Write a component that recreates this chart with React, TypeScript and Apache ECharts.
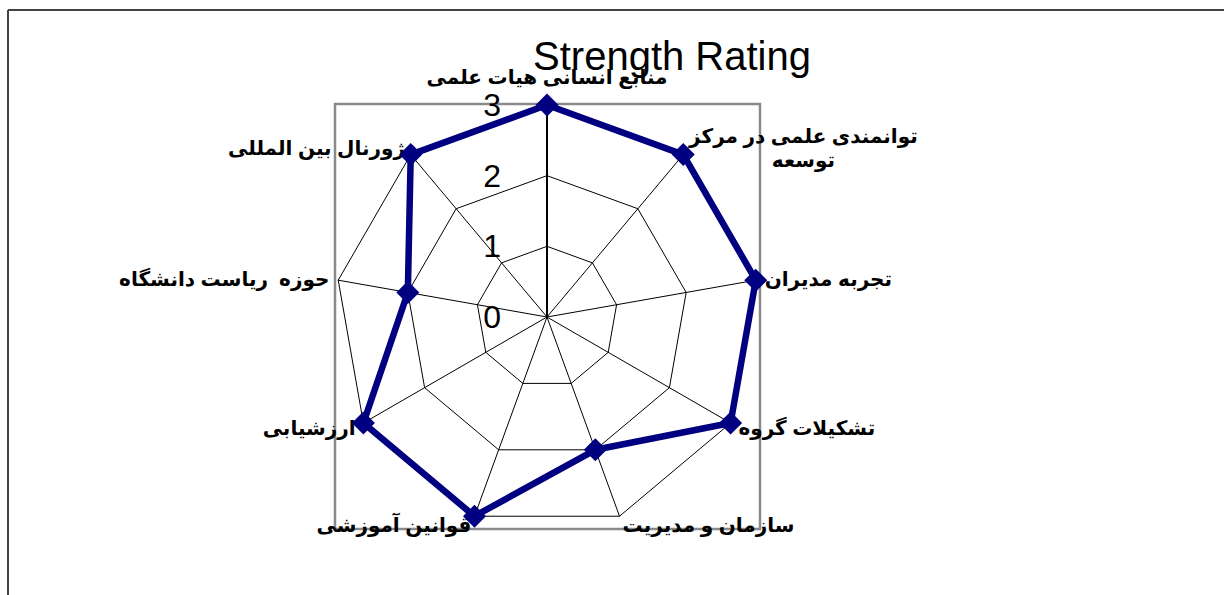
import React, { useEffect, useRef } from "react";
import * as echarts from "echarts";

// Categories listed counter-clockwise starting from the top axis
const categories = [
  "منابع انسانی هیات علمی",
  "ژورنال بین المللی",
  "حوزه  ریاست دانشگاه",
  "ارزشیابی",
  "قوانین آموزشی",
  "سازمان و مدیریت",
  "تشکیلات گروه",
  "تجربه مدیران",
  "توانمندی علمی در مرکز\nتوسعه",
];
const strengthValues = [3, 3, 2, 3, 3, 2, 3, 3, 3];
const tickLabels = ["0", "1", "2", "3"];
const axisMin = 0;
const axisMax = 3;
const chartTitle = "Strength Rating";

export default function App() {
  const ref = useRef<HTMLDivElement>(null);

  useEffect(() => {
    if (!ref.current) return;
    const chart = echarts.init(ref.current, undefined, { renderer: "svg" });
    const labelFont = 'Arial, "Liberation Sans", "DejaVu Sans", sans-serif';
    const n = categories.length;

    // name alignment: outward from the centre, vertically centred except the top one
    const nameStyleFor = (i: number) => {
      if (i === 0) return { align: "center", verticalAlign: "bottom" };
      const ang = Math.PI / 2 + (2 * Math.PI * i) / n;
      const c = Math.cos(ang);
      return { align: c > 0.05 ? "left" : c < -0.05 ? "right" : "center", verticalAlign: "middle" };
    };

    chart.setOption({
      animation: false,
      backgroundColor: "#ffffff",
      graphic: [
        {
          type: "line",
          shape: { x1: 8, y1: 10, x2: 1224, y2: 10 },
          style: { stroke: "#444", lineWidth: 2 },
          silent: true,
        },
        {
          type: "line",
          shape: { x1: 8, y1: 10, x2: 8, y2: 595 },
          style: { stroke: "#444", lineWidth: 2 },
          silent: true,
        },
        {
          type: "rect",
          shape: { x: 335, y: 104, width: 425, height: 425 },
          style: { fill: "none", stroke: "#8a8a8a", lineWidth: 2.5 },
          silent: true,
          z: -1,
        },
        {
          type: "text",
          x: 672,
          y: 56,
          style: {
            text: chartTitle,
            fill: "#000",
            font: '40px Arial, "Liberation Sans", sans-serif',
            textAlign: "center",
            textVerticalAlign: "middle",
          },
          silent: true,
          z: 10,
        },
      ],
      radar: {
        center: [547, 317],
        radius: 212,
        startAngle: 90,
        shape: "polygon",
        splitNumber: 3,
        nameGap: 9,
        axisName: {
          color: "#000",
          fontFamily: labelFont,
          fontWeight: "bold",
          fontSize: 20,
          lineHeight: 24,
          formatter: (name: string) =>
            name.includes("\n")
              ? name
                  .split("\n")
                  .map((l) => `{c|${l}}`)
                  .join("\n")
              : name,
          rich: {
            c: {
              align: "center",
              color: "#000",
              fontFamily: labelFont,
              fontWeight: "bold",
              fontSize: 20,
              lineHeight: 24,
            },
          },
        },
        splitLine: { lineStyle: { color: "#000", width: 1 } },
        splitArea: { show: false },
        axisLine: { lineStyle: { color: "#000", width: 1 } },
        axisTick: { show: false },
        axisLabel: { show: false },
        indicator: categories.map((name, i) =>
          i === 0
            ? {
                name,
                min: axisMin,
                max: axisMax,
                nameTextStyle: nameStyleFor(i),
                axisLine: { lineStyle: { color: "#000", width: 2 } },
                axisLabel: {
                  show: true,
                  color: "#000",
                  fontSize: 32,
                  fontFamily: labelFont,
                  margin: 46,
                  formatter: (v: number) => tickLabels[Math.round(v)] ?? String(v),
                },
              }
            : { name, min: axisMin, max: axisMax, nameTextStyle: nameStyleFor(i) }
        ),
      },
      series: [
        {
          type: "radar",
          symbol: "diamond",
          symbolSize: 23,
          lineStyle: { color: "#000080", width: 6.5 },
          itemStyle: { color: "#000080" },
          data: [{ value: strengthValues, name: chartTitle }],
          z: 5,
        },
      ],
    });

    return () => chart.dispose();
  }, []);

  return (
    <div
      ref={ref}
      style={{ position: "absolute", left: 0, top: 0, width: 1224, height: 595 }}
    />
  );
}
